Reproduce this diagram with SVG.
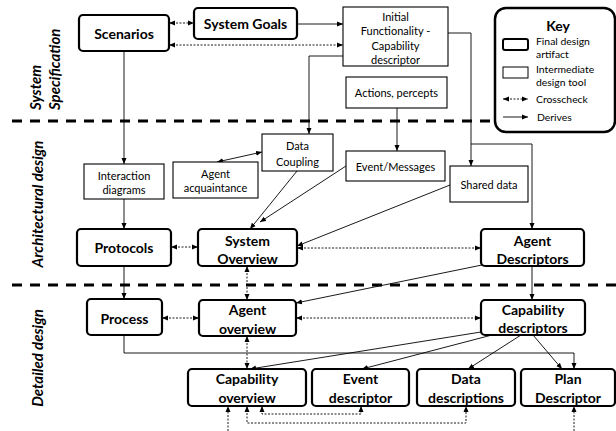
<svg xmlns="http://www.w3.org/2000/svg" width="616" height="431" viewBox="0 0 616 431">
<style>
.fin{fill:#fff;stroke:#000;stroke-width:2.2}
.mid{fill:#fff;stroke:#000;stroke-width:1.1}
.bt{font-family:Lato,"Liberation Sans",sans-serif;font-weight:bold;font-size:14px;fill:#000;text-anchor:middle;dominant-baseline:central}
.nt{font-family:Lato,"Liberation Sans",sans-serif;font-size:11px;fill:#000;text-anchor:middle;dominant-baseline:central}
.kt{font-family:Lato,"Liberation Sans",sans-serif;font-size:10.4px;fill:#000;dominant-baseline:central}
.side{font-family:Lato,"Liberation Sans",sans-serif;font-weight:bold;font-style:italic;font-size:15px;fill:#000}
.sep{stroke:#000;stroke-width:3;stroke-dasharray:10 8;fill:none}
.d{fill:none;stroke:#000;stroke-width:0.9;marker-end:url(#ah)}
.d2{fill:none;stroke:#000;stroke-width:0.9;marker-end:url(#ah);marker-start:url(#ah)}
.x{fill:none;stroke:#000;stroke-width:0.9;stroke-dasharray:2 1.5;marker-end:url(#ah);marker-start:url(#ah)}
.x1{fill:none;stroke:#000;stroke-width:0.9;stroke-dasharray:2 1.5;marker-end:url(#ah)}
</style>
<defs>
<marker id="ah" viewBox="0 0 6 6" refX="6" refY="3" markerWidth="6" markerHeight="6" markerUnits="userSpaceOnUse" orient="auto-start-reverse">
<path d="M0,0.5 L6,3 L0,5.5 Z" fill="#000"/>
</marker>
</defs>

<!-- separators -->
<g id="separators">
<line class="sep" x1="12" y1="121" x2="494" y2="121"/>
<line class="sep" x1="12" y1="285" x2="616" y2="285"/>
</g>

<!-- phase labels -->
<g id="phase-labels">
<text class="side" transform="translate(41,110) rotate(-90)">System</text>
<text class="side" transform="translate(60,110) rotate(-90)">Specification</text>
<text class="side" transform="translate(43,204) rotate(-90)" text-anchor="middle">Architectural design</text>
<text class="side" transform="translate(43,358) rotate(-90)" text-anchor="middle">Detailed design</text>
</g>

<!-- connectors -->
<g id="connectors">
<!-- crosschecks -->
<path class="x" d="M169,23 H194"/>
<path class="x" d="M169,45 H343"/>
<path class="x" d="M171,247 H198"/>
<path class="x" d="M297,248 H481"/>
<path class="x" d="M162,318 H199"/>
<path class="x" d="M296,318 H481"/>
<path class="x" d="M247,266 V300"/>
<path class="x" d="M247,336 V369"/>
<path class="x" d="M262,406 V414 H361 V406"/>
<path class="x" d="M247,406 V423 H466 V406"/>
<path class="x1" d="M228,431 V406"/>
<path class="x1" d="M574,431 V406"/>
<!-- derives -->
<path class="d" d="M297,24 H343"/>
<path class="d" d="M124,51 V164"/>
<path class="d" d="M124,199 V229"/>
<path class="d" d="M343,56 H309 V134"/>
<path class="d" d="M448,33 H471 V166"/>
<path class="d" d="M471,144 H532 V229"/>
<path class="d" d="M397,108 V151"/>
<path class="d2" d="M217,162 L262,152"/>
<path class="d" d="M297,171 L250,229"/>
<path class="d" d="M346,166 L260,222"/>
<path class="d" d="M450,185 L297,246"/>
<path class="d" d="M124,266 V299"/>
<path class="d" d="M482,265 L296,303"/>
<path class="d" d="M532,266 V300"/>
<path class="d" d="M124,335 V353 H574 V369"/>
<path class="d" d="M481,332 L250,369"/>
<path class="d" d="M492,335 L362,369"/>
<path class="d" d="M521,335 L468,369"/>
<path class="d" d="M533,335 L562,369"/>
</g>

<!-- nodes -->
<g id="scenarios"><rect class="fin" x="79" y="15" width="90" height="36" rx="4"/><text class="bt" x="124" y="33">Scenarios</text></g>
<g id="system-goals"><rect class="fin" x="194" y="8" width="103" height="31" rx="4"/><text class="bt" x="245.5" y="23.5">System Goals</text></g>
<g id="initial-functionality"><rect class="mid" x="343" y="7" width="105" height="59"/>
<text class="nt" x="395.5" y="16">Initial</text><text class="nt" x="395.5" y="30">Functionality -</text><text class="nt" x="395.5" y="45">Capability</text><text class="nt" x="395.5" y="59">descriptor</text></g>
<g id="actions-percepts"><rect class="mid" x="346" y="77" width="101" height="31"/><text class="nt" x="396.5" y="92.5">Actions, percepts</text></g>
<g id="interaction-diagrams"><rect class="mid" x="84" y="164" width="80" height="35"/><text class="nt" x="124" y="175">Interaction</text><text class="nt" x="124" y="189">diagrams</text></g>
<g id="agent-acquaintance"><rect class="mid" x="173" y="162" width="85" height="36"/><text class="nt" x="215.5" y="173">Agent</text><text class="nt" x="215.5" y="187">acquaintance</text></g>
<g id="data-coupling"><rect class="mid" x="262" y="134" width="71" height="37"/><text class="nt" x="297.5" y="145">Data</text><text class="nt" x="297.5" y="161">Coupling</text></g>
<g id="event-messages"><rect class="mid" x="346" y="151" width="99" height="30"/><text class="nt" x="395.5" y="166">Event/Messages</text></g>
<g id="shared-data"><rect class="mid" x="450" y="166" width="78" height="36"/><text class="nt" x="489" y="184">Shared data</text></g>
<g id="protocols"><rect class="fin" x="77" y="229" width="94" height="37" rx="4"/><text class="bt" x="124" y="247.5">Protocols</text></g>
<g id="system-overview"><rect class="fin" x="198" y="229" width="99" height="37" rx="4"/><text class="bt" x="247.5" y="240">System</text><text class="bt" x="247.5" y="258">Overview</text></g>
<g id="agent-descriptors"><rect class="fin" x="481" y="229" width="103" height="37" rx="4"/><text class="bt" x="532.5" y="240">Agent</text><text class="bt" x="532.5" y="258">Descriptors</text></g>
<g id="process"><rect class="fin" x="87" y="299" width="75" height="36" rx="4"/><text class="bt" x="124.5" y="318">Process</text></g>
<g id="agent-overview"><rect class="fin" x="199" y="300" width="97" height="36" rx="4"/><text class="bt" x="247.5" y="309">Agent</text><text class="bt" x="247.5" y="328">overview</text></g>
<g id="capability-descriptors"><rect class="fin" x="481" y="300" width="104" height="35" rx="4"/><text class="bt" x="533" y="309">Capability</text><text class="bt" x="533" y="327">descriptors</text></g>
<g id="capability-overview"><rect class="fin" x="188" y="369" width="118" height="37" rx="4"/><text class="bt" x="247" y="378">Capability</text><text class="bt" x="247" y="397">overview</text></g>
<g id="event-descriptor"><rect class="fin" x="312" y="369" width="97" height="37" rx="4"/><text class="bt" x="360.5" y="378">Event</text><text class="bt" x="360.5" y="397">descriptor</text></g>
<g id="data-descriptions"><rect class="fin" x="417" y="369" width="98" height="37" rx="4"/><text class="bt" x="466" y="378">Data</text><text class="bt" x="466" y="397">descriptions</text></g>
<g id="plan-descriptor"><rect class="fin" x="521" y="369" width="94" height="37" rx="4"/><text class="bt" x="568" y="378">Plan</text><text class="bt" x="568" y="397">Descriptor</text></g>

<!-- key -->
<g id="key">
<rect x="495" y="8" width="120" height="124" rx="11" fill="#fff" stroke="#000" stroke-width="2.5"/>
<text class="bt" x="558" y="25" font-size="16">Key</text>
<rect x="503" y="39" width="25" height="11" rx="2" fill="#fff" stroke="#000" stroke-width="2"/>
<text class="kt" x="536" y="41">Final design</text><text class="kt" x="536" y="54">artifact</text>
<rect x="503" y="67" width="25" height="11" fill="#fff" stroke="#000" stroke-width="1"/>
<text class="kt" x="536" y="69">Intermediate</text><text class="kt" x="536" y="82">design tool</text>
<path class="x" d="M503,99 H528"/>
<text class="kt" x="536" y="99">Crosscheck</text>
<path class="d" d="M503,117 H528"/>
<text class="kt" x="537" y="117">Derives</text>
</g>
</svg>
